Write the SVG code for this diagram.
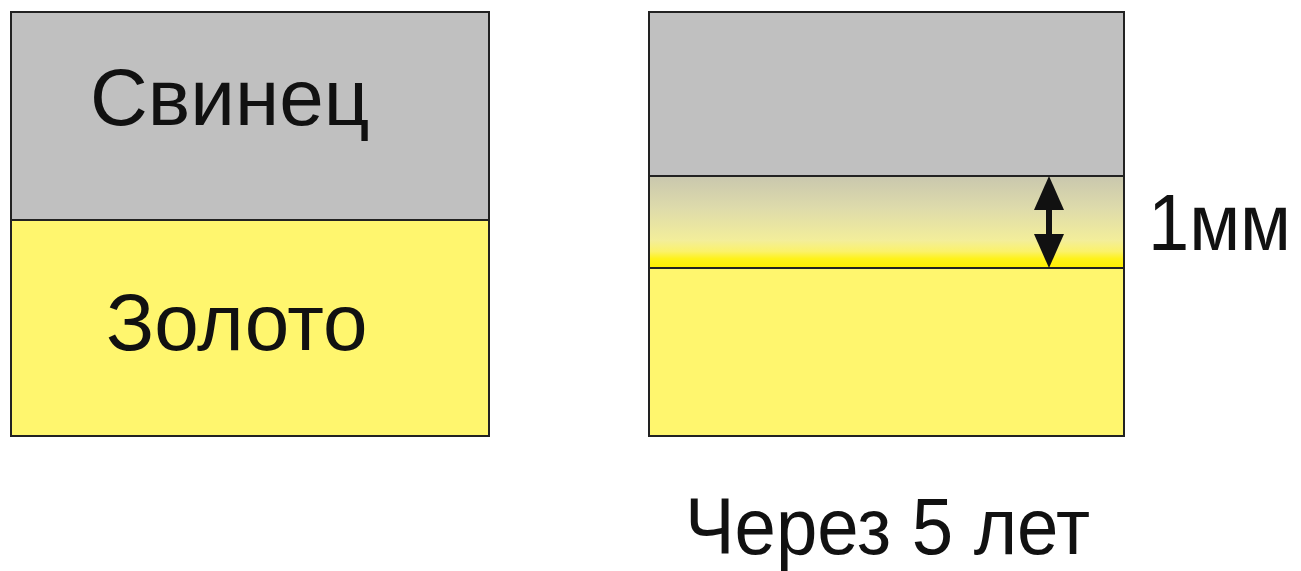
<svg xmlns="http://www.w3.org/2000/svg" width="1301" height="571" viewBox="0 0 1301 571">
<style>
.lbl{font-family:"Liberation Sans",Arial,sans-serif;font-size:80px;fill:#111}
.edge{fill:none;stroke:#222;stroke-width:2}
</style>
<defs>
<linearGradient id="diff" x1="0" y1="0" x2="0" y2="1">
<stop offset="0" stop-color="#c9c7ae"/>
<stop offset="0.35" stop-color="#dedbab"/>
<stop offset="0.7" stop-color="#f3ee9a"/>
<stop offset="0.82" stop-color="#fbf26a"/>
<stop offset="0.9" stop-color="#fff21a"/>
<stop offset="1" stop-color="#ffee00"/>
</linearGradient>
</defs>
<rect width="1301" height="571" fill="#fff"/>
<g id="left">
<rect x="11" y="12" width="478" height="208" fill="#c0c0c0"/>
<rect x="11" y="220" width="478" height="216" fill="#fff66e"/>
<rect class="edge" x="11" y="12" width="478" height="424"/>
<line class="edge" x1="11" y1="220" x2="489" y2="220"/>
<text class="lbl" x="90" y="125">Свинец</text>
<text class="lbl" x="106" y="350">Золото</text>
</g>
<g id="right">
<rect x="649" y="12" width="475" height="164" fill="#c0c0c0"/>
<rect x="649" y="176" width="475" height="92" fill="url(#diff)"/>
<rect x="649" y="268" width="475" height="168" fill="#fff66e"/>
<rect class="edge" x="649" y="12" width="475" height="424"/>
<line class="edge" x1="649" y1="176" x2="1124" y2="176"/>
<line class="edge" x1="649" y1="268" x2="1124" y2="268"/>
<text class="lbl" x="685" y="554" font-size="78" textLength="405" lengthAdjust="spacingAndGlyphs">Через 5 лет</text>
</g>
<g id="connectors">
<line x1="1049" y1="205" x2="1049" y2="240" stroke="#111" stroke-width="6"/>
<polygon points="1049,176 1064,210 1034,210" fill="#111"/>
<polygon points="1049,268 1064,234 1034,234" fill="#111"/>
</g>
<g id="dim-label">
<text class="lbl" x="1148" y="250" textLength="143" lengthAdjust="spacingAndGlyphs">1мм</text>
</g>
</svg>
